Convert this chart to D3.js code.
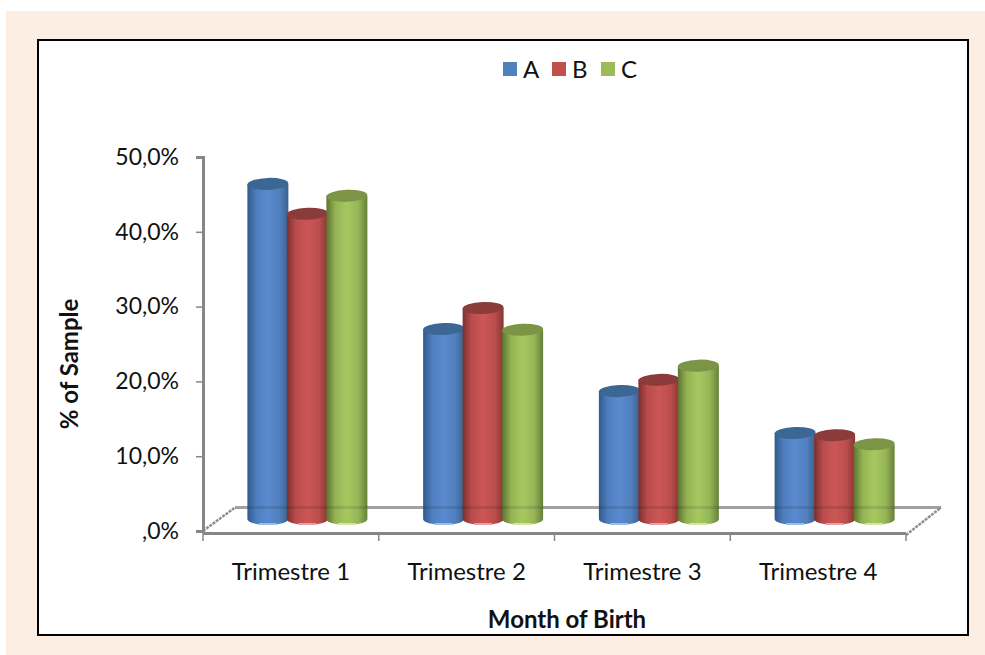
<!DOCTYPE html>
<html>
<head>
<meta charset="utf-8">
<script src="https://cdnjs.cloudflare.com/ajax/libs/d3/7.8.5/d3.min.js"></script>
<style>
  html, body { margin: 0; padding: 0; background: #fff; }
  text { font-family: Lato, "Open Sans", sans-serif; fill: #111; }
</style>
</head>
<body>
<div id="chart"></div>
<script>
// values
const categories = ["Trimestre 1", "Trimestre 2", "Trimestre 3", "Trimestre 4"];
const seriesNames = ["A", "B", "C"];
const seriesA = [44.8, 25.4, 17.1, 11.5];
const seriesB = [40.8, 28.2, 18.6, 11.2];
const seriesC = [43.2, 25.3, 20.5, 10.0];
const yTicks = [0, 10, 20, 30, 40, 50];
const yTickLabels = [",0%", "10,0%", "20,0%", "30,0%", "40,0%", "50,0%"];

const allSeries = [seriesA, seriesB, seriesC];

const colours = [
  { edgeL: "#2f5a8c", mid: "#5a8ace", edgeR: "#38628f", top: "#3c6795", swatch: "#4f81bd", base: "#9dbde6" },
  { edgeL: "#7c2f2e", mid: "#cd5656", edgeR: "#8a3634", top: "#8b3b3a", swatch: "#c0504d", base: "#e8a0a0" },
  { edgeL: "#5d7430", mid: "#a6c860", edgeR: "#66803a", top: "#7c9446", swatch: "#9bbb59", base: "#d3e6a6" }
];

let width = 985;
let height = 655;

let svg = d3.select("#chart")
  .append("svg")
  .attr("width", width)
  .attr("height", height)
  .style("display", "block");

// page background and chart frame
svg.append("rect").attr("x", 6).attr("y", 11).attr("width", width - 6).attr("height", height - 11).attr("fill", "#fdeee4");
svg.append("rect").attr("x", 38).attr("y", 40).attr("width", 930).attr("height", 595)
  .attr("fill", "#fff").attr("stroke", "#000").attr("stroke-width", 2);

/** scales. the floor goes back in depth, bars stand half way in. */
let y = d3.scaleLinear().domain([0, 50]).range([531, 157]);
let x = d3.scaleBand().domain(categories).range([203, 906]);
let depthX = 16.5, depthY = 12;
let barStep = 39.5, barW = 41, ry = 6;

/** one gradient for each series */
let defs = svg.append("defs");
colours.forEach((c, i) => {
  let g = defs.append("linearGradient").attr("id", "cyl" + i);
  g.append("stop").attr("offset", "0%").attr("stop-color", c.edgeL);
  g.append("stop").attr("offset", "22%").attr("stop-color", d3.interpolateRgb(c.edgeL, c.mid)(0.75));
  g.append("stop").attr("offset", "50%").attr("stop-color", c.mid);
  g.append("stop").attr("offset", "78%").attr("stop-color", d3.interpolateRgb(c.edgeR, c.mid)(0.75));
  g.append("stop").attr("offset", "100%").attr("stop-color", c.edgeR);
});

/** floor */
svg.append("path")
  .attr("d", "M235,507.5H941")
  .attr("fill", "none").attr("stroke", "#b4b4b4").attr("stroke-width", 3);
svg.append("path")
  .attr("d", "M203,531L235,507.5M906,535L941,507.5")
  .attr("fill", "none").attr("stroke", "#8f8f8f").attr("stroke-width", 2.5).attr("stroke-dasharray", "3 1");

/** cylinders */
categories.forEach((cat, ci) => {
  let cx = x(cat) + x.bandwidth() / 2 + depthX;
  allSeries.forEach((vals, si) => {
    let c = colours[si];
    let mx = cx + (si - 1) * barStep;
    let top = y(vals[ci]) - depthY;
    let base = y(0) - depthY;
    let rx = barW / 2;
    let g = svg.append("g").attr("class", "bar");
    g.append("path")
      .attr("d", `M${mx - rx},${top}V${base}A${rx},${ry} 0 0 0 ${mx + rx},${base}V${top}Z`)
      .attr("fill", `url(#cyl${si})`);
    // light rim on the base
    g.append("path")
      .attr("d", `M${mx - 9},${base + ry - 1}H${mx + 9}`)
      .attr("stroke", c.base).attr("stroke-width", 2).attr("fill", "none");
    g.append("ellipse")
      .attr("cx", mx).attr("cy", top).attr("rx", rx).attr("ry", ry)
      .attr("fill", c.top)
      .attr("transform", `rotate(-2 ${mx} ${top})`);
  });
});

// the back floor line shows faintly through the bars
svg.append("path")
  .attr("d", "M235,507.5H941")
  .attr("fill", "none").attr("stroke", "#000").attr("stroke-opacity", 0.1).attr("stroke-width", 3);

/** axes */
let yAxis = d3.axisLeft(y)
  .tickValues(yTicks)
  .tickSize(7)
  .tickPadding(17)
  .tickFormat((d, i) => yTickLabels[i]);

let gy = svg.append("g").attr("transform", "translate(203,0)").call(yAxis);
gy.select(".domain").attr("stroke", "#868686").attr("stroke-width", 3);
gy.selectAll(".tick line").attr("stroke", "#868686").attr("stroke-width", 1.5);
gy.selectAll(".tick text").style("font-family", "Lato, sans-serif").style("font-size", "23px").attr("fill", "#111");

let xAxis = d3.axisBottom(x).tickSize(0).tickPadding(30);
let gx = svg.append("g").attr("transform", "translate(0,533)").call(xAxis);
gx.select(".domain").remove();
gx.selectAll(".tick text").style("font-family", "Lato, sans-serif").style("font-size", "24px").attr("fill", "#111");

svg.append("path")
  .attr("d", "M203,533.5H906")
  .attr("stroke", "#868686").attr("stroke-width", 3).attr("fill", "none");

// ticks sit on the band edges
svg.selectAll(".edge-tick")
  .data(categories.map(d => x(d)).concat([x.range()[1]]))
  .enter()
  .append("line")
  .attr("class", "edge-tick")
  .attr("x1", d => d).attr("x2", d => d)
  .attr("y1", 533).attr("y2", 541)
  .attr("stroke", "#868686").attr("stroke-width", 1.5);

/** axis titles */
svg.append("text")
  .attr("transform", "translate(78,364) rotate(-90)")
  .attr("text-anchor", "middle")
  .style("font-size", "24px").style("font-weight", 700)
  .text("% of Sample");

svg.append("text")
  .attr("x", 567).attr("y", 628)
  .attr("text-anchor", "middle")
  .style("font-size", "24px").style("font-weight", 700)
  .text("Month of Birth");

/** legend */
let legendX = d3.scalePoint().domain(seriesNames).range([503, 601]);
let legend = svg.selectAll(".legend")
  .data(seriesNames)
  .enter()
  .append("g")
  .attr("class", "legend")
  .attr("transform", d => `translate(${legendX(d)},62)`);

legend.append("rect")
  .attr("width", 14).attr("height", 14)
  .attr("fill", (d, i) => colours[i].swatch);

legend.append("text")
  .attr("x", 20).attr("y", 16)
  .style("font-size", "24px")
  .text(d => d);
</script>
</body>
</html>
